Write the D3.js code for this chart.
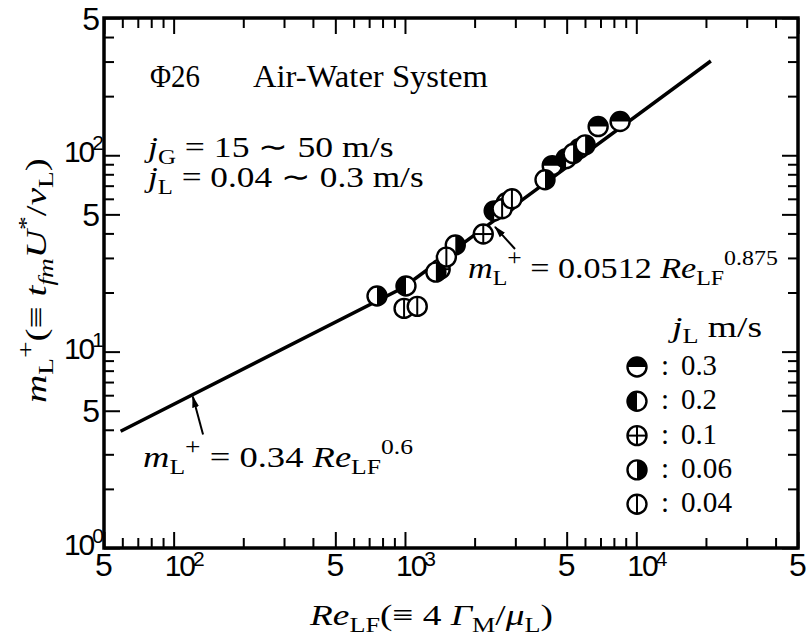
<!DOCTYPE html>
<meta charset="utf-8">
<script src="https://d3js.org/d3.v7.min.js"></script>
<style>
  body { margin: 0; background: #fff; }
  svg text { font-family: "Liberation Serif", "Times New Roman", serif; fill: #000; }
  svg text.tl { font-family: "Liberation Sans", Arial, sans-serif; }
</style>
<div id="my_dataviz"></div>
<script>
// axes: Re_LF (x) and m_L+ (y), both log
var xDomain = [50, 50000];
var yDomain = [1, 500];

// major ticks with their labels: [mantissa, exponent] ; exponent null -> plain "5"
var xMajor = [50, 100, 500, 1000, 5000, 10000, 50000];
var xLabels = [["5", null], ["10", "2"], ["5", null], ["10", "3"], ["5", null], ["10", "4"], ["5", null]];
var yMajor = [1, 5, 10, 50, 100, 500];
var yLabels = [["10", "0"], ["5", null], ["10", "1"], ["5", null], ["10", "2"], ["5", null]];

// correlation line: 0.34 Re^0.6 up to the crossing, then 0.0512 Re^0.875
var lineRe = [59, 976, 21000];
var lineM = [3.93, 21.1, 302];

// measured points, one pair of arrays per j_L (m/s)
var re_03 = [4330, 6840, 8510];
var m_03 = [88.5, 140, 148.5];
var re_02 = [1010, 2430, 4970, 5660];
var m_02 = [21.6, 52.1, 96.1, 108];
var re_01 = [1420, 2180, 2740];
var m_01 = [26.3, 39.7, 57.3];
var re_006 = [757, 1360, 1650, 4030, 5330, 6010];
var m_006 = [19.2, 25.4, 34.9, 75.0, 102, 113];
var re_004 = [991, 1130, 1510, 2630, 2900];
var m_004 = [16.6, 17.0, 30.3, 53.4, 60.0];

var groups = [
    { key: "0.3", re: re_03, m: m_03 },
    { key: "0.2", re: re_02, m: m_02 },
    { key: "0.1", re: re_01, m: m_01 },
    { key: "0.06", re: re_006, m: m_006 },
    { key: "0.04", re: re_004, m: m_004 }
];

// arrows pointing at the line: [tailRe, tailM, tipRe, tipM]
var arrowHigh = [2990, 33.3, 2450, 43.2];
var arrowLow = [134, 3.78, 121, 5.91];

var margin = { top: 18, right: 9, bottom: 91, left: 104 },
    width = 807 - margin.left - margin.right,
    height = 639 - margin.top - margin.bottom;

var x = d3.scaleLog().domain(xDomain).range([0, width]);
var y = d3.scaleLog().domain(yDomain).range([height, 0]);

var svg0 = d3.select("#my_dataviz")
    .append("svg")
    .attr("width", 807)
    .attr("height", 639);

svg0.append("defs").append("marker")
    .attr("id", "head")
    .attr("viewBox", "0 0 12 8")
    .attr("refX", 11).attr("refY", 4)
    .attr("markerWidth", 12).attr("markerHeight", 8)
    .attr("markerUnits", "userSpaceOnUse")
    .attr("orient", "auto")
    .append("path").attr("d", "M0,0.5 L12,4 L0,7.5 Z").attr("fill", "#000");

var svg = svg0.append("g")
    .attr("transform", "translate(" + margin.left + "," + margin.top + ")");

// ticks, inward on all four sides
var xMinor = x.ticks().filter(function (v) { return xMajor.indexOf(v) < 0; });
var yMinor = y.ticks().filter(function (v) { return yMajor.indexOf(v) < 0; });

function tickAxis(axis, vals, len, tr) {
    var g = svg.append("g")
        .attr("transform", tr)
        .call(axis.tickValues(vals).tickSize(len).tickFormat(""));
    g.select(".domain").remove();
    g.selectAll("line").attr("stroke", "#000").attr("stroke-width", 2);
}
tickAxis(d3.axisBottom(x), xMinor, -10, "translate(0," + height + ")");
tickAxis(d3.axisBottom(x), xMajor, -16, "translate(0," + height + ")");
tickAxis(d3.axisTop(x), xMinor, -10, "translate(0,0)");
tickAxis(d3.axisTop(x), xMajor, -16, "translate(0,0)");
tickAxis(d3.axisLeft(y), yMinor, -10, "translate(0,0)");
tickAxis(d3.axisLeft(y), yMajor, -16, "translate(0,0)");
tickAxis(d3.axisRight(y), yMinor, -10, "translate(" + width + ",0)");
tickAxis(d3.axisRight(y), yMajor, -16, "translate(" + width + ",0)");

// frame
svg.append("rect")
    .attr("width", width).attr("height", height)
    .attr("fill", "none").attr("stroke", "#000").attr("stroke-width", 3.5);

// tick labels
xMajor.forEach(function (v, i) {
    var lab = xLabels[i];
    if (lab[1] === null) {
        svg.append("text").attr("class", "tl")
            .attr("x", x(v)).attr("y", height + 28)
            .attr("text-anchor", "middle")
            .style("font-size", "32px").text(lab[0]);
    } else {
        var t = svg.append("text").attr("class", "tl")
            .attr("x", x(v) - 9).attr("y", height + 28)
            .style("font-size", "30px").style("letter-spacing", "-2px");
        t.append("tspan").text(lab[0]);
        t.append("tspan").attr("dx", -1).attr("dy", -10).style("font-size", "21px").text(lab[1]);
    }
});
yMajor.forEach(function (v, i) {
    var lab = yLabels[i];
    if (lab[1] === null) {
        svg.append("text").attr("class", "tl")
            .attr("x", -4).attr("y", y(v) + 11.5)
            .attr("text-anchor", "end")
            .style("font-size", "32px").text(lab[0]);
    } else {
        var t = svg.append("text").attr("class", "tl")
            .attr("x", -2).attr("y", y(v) + 7)
            .attr("text-anchor", "end")
            .style("font-size", "30px").style("letter-spacing", "-2px");
        t.append("tspan").text(lab[0]);
        t.append("tspan").attr("dx", -1).attr("dy", -12).style("font-size", "21px").text(lab[1]);
    }
});

// correlation line
svg.append("path")
    .datum(lineRe.map(function (d, i) { return [d, lineM[i]]; }))
    .attr("fill", "none").attr("stroke", "#000").attr("stroke-width", 3.5)
    .attr("d", d3.line().x(function (d) { return x(d[0]); }).y(function (d) { return y(d[1]); }));

// symbols
var R = 9.5;
var arc = d3.arc().innerRadius(0).outerRadius(R);
function symbol(g, key) {
    g.append("circle").attr("r", R).attr("fill", "#fff").attr("stroke", "#000").attr("stroke-width", 2.4);
    var half = null;
    if (key === "0.3") half = [-Math.PI / 2, Math.PI / 2];
    if (key === "0.2") half = [Math.PI, 2 * Math.PI];
    if (key === "0.06") half = [0, Math.PI];
    if (half) g.append("path").attr("d", arc({ startAngle: half[0], endAngle: half[1] })).attr("fill", "#000");
    if (key === "0.1" || key === "0.04")
        g.append("line").attr("x1", 0).attr("x2", 0).attr("y1", -R).attr("y2", R).attr("stroke", "#000").attr("stroke-width", 2);
    if (key === "0.1")
        g.append("line").attr("x1", -R).attr("x2", R).attr("y1", 0).attr("y2", 0).attr("stroke", "#000").attr("stroke-width", 2);
}

groups.forEach(function (grp) {
    grp.re.forEach(function (re, i) {
        var g = svg.append("g").attr("transform", "translate(" + x(re) + "," + y(grp.m[i]) + ")");
        symbol(g, grp.key);
    });
});

// arrows
[arrowHigh, arrowLow].forEach(function (a) {
    svg.append("line")
        .attr("x1", x(a[0])).attr("y1", y(a[1]))
        .attr("x2", x(a[2])).attr("y2", y(a[3]))
        .attr("stroke", "#000").attr("stroke-width", 2)
        .attr("marker-end", "url(#head)");
});

// text with sub/superscripts: parts = [text, italic, shift(em), size(em)]
// the glyphs are stretched horizontally to the wanted width (the scan is wide)
function rich(x0, y0, size, parts, len, rot) {
    var t = svg0.append("text").attr("x", 0).attr("y", 0).style("font-size", size + "px");
    var cur = 0;
    parts.forEach(function (p) {
        var s = p[2] || 0;
        t.append("tspan").text(p[0])
            .attr("dy", (s - cur) * size)
            .style("font-style", p[1] ? "italic" : "normal")
            .style("font-size", (p[3] || 1) * size + "px");
        cur = s;
    });
    var w = t.node().getComputedTextLength();
    var sx = len ? len / w : 1;
    t.attr("transform", "translate(" + x0 + "," + y0 + ")" + (rot ? " rotate(" + rot + ")" : "") + " scale(" + sx + ",1)");
    return t;
}
var SUB = 0.22, SUP = -0.45, SS = 0.7;

rich(150, 87, 31, [["Φ26"]], 50);
rich(253, 87, 31, [["Air-Water System"]], 235);
rich(148, 157, 30, [["j", true], ["G", false, SUB, SS], [" = 15 ∼ 50 m/s"]], 245);
rich(148, 187, 30, [["j", true], ["L", false, SUB, SS], [" = 0.04 ∼ 0.3 m/s"]], 275);
rich(468, 278, 30, [["m", true], ["L", false, SUB, SS], ["+", false, SUP, 0.75], [" = 0.0512 "], ["Re", true], ["LF", false, SUB, SS], ["0.875", false, SUP, SS]], 310);
rich(143, 467, 30, [["m", true], ["L", false, SUB, SS], ["+", false, SUP, 0.75], [" = 0.34 "], ["Re", true], ["LF", false, SUB, SS], ["0.6", false, SUP, SS]], 270);

// axis titles
rich(310, 625, 30, [["Re", true], ["LF", false, SUB, SS], ["(≡ 4 "], ["Γ", true], ["M", false, SUB, SS], ["/"], ["μ", true], ["L", false, SUB, SS], [")"]], 243);
rich(46, 403, 30, [["m", true], ["L", false, SUB, SS], ["+", false, SUP, 0.75], ["(≡ "], ["t", true], ["fm", true, SUB, SS], ["U", true], ["*", false, SUP, SS], ["/"], ["ν", true], ["L", false, SUB, SS], [")"]], 245, -90);

// legend
rich(672, 337, 29, [["j", true], ["L", false, SUB, SS], [" m/s"]], 90);
groups.forEach(function (grp, i) {
    var cy = 367 + i * 34.3;
    var g = svg0.append("g").attr("transform", "translate(637," + cy + ")");
    symbol(g, grp.key);
    svg0.append("text").attr("x", 661).attr("y", cy + 8).style("font-size", "29px").text(":");
    rich(681, cy + 8, 29, [[grp.key]], grp.key.length === 3 ? 36 : 51);
});
</script>
